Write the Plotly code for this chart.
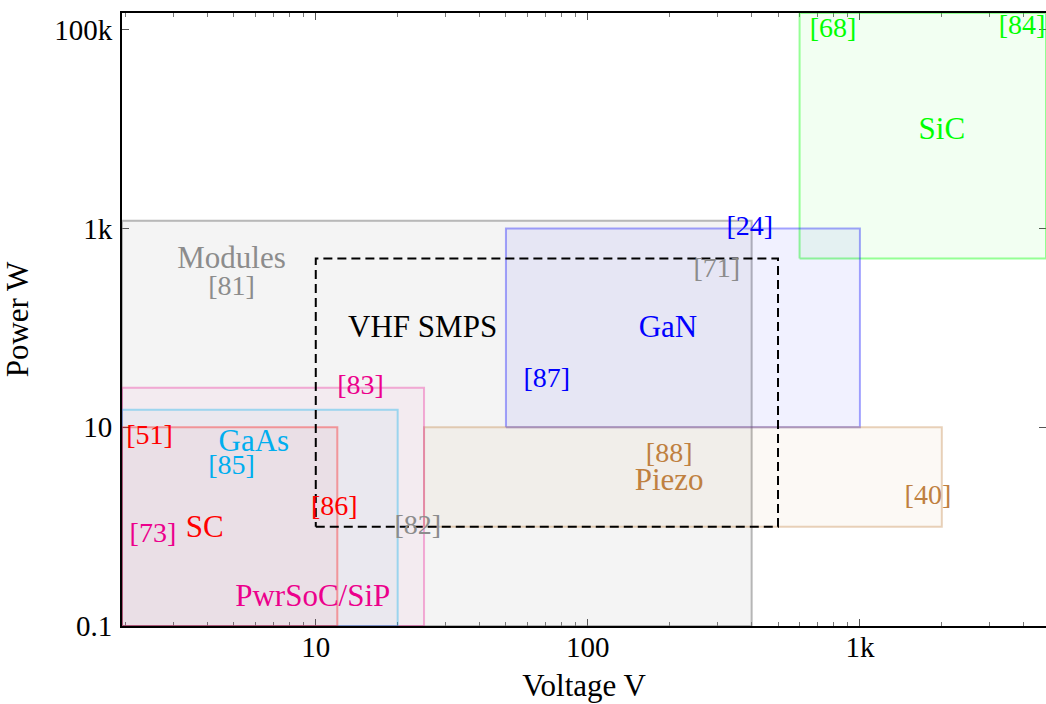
import math
import plotly.graph_objects as go

# ---- data ----
V_MIN, V_MAX = 1.94, 4830.0
P_MIN, P_MAX = 0.1, 148000.0

region_names = ["Modules", "SiC", "GaN", "Piezo", "PwrSoC/SiP", "GaAs", "SC"]
region_v0 = [V_MIN, 600, 50, 25, V_MIN, V_MIN, V_MIN]
region_v1 = [400, V_MAX, 1000, 2000, 25, 20, 12]
region_p0 = [P_MIN, 500, 10, 1, P_MIN, P_MIN, P_MIN]
region_p1 = [1200, P_MAX, 1000, 10, 25, 15, 10]
region_rgb = ["128,128,128", "0,255,0", "0,0,255", "191,128,64", "236,0,140", "0,174,239", "255,0,0"]
region_fill_alpha = [0.09, 0.05, 0.055, 0.05, 0.035, 0.035, 0.035]
region_line_alpha = [0.55, 0.4, 0.35, 0.35, 0.3, 0.35, 0.35]

vhf_v = [10, 500]
vhf_p = [1, 500]

label_text = ["Modules", "[81]", "VHF SMPS", "GaN", "[24]", "[71]", "[87]",
              "SiC", "[68]", "[84]", "[88]", "Piezo", "[40]",
              "[83]", "PwrSoC/SiP", "[73]", "GaAs", "[85]", "[82]",
              "SC", "[51]", "[86]"]
label_v = [4.9, 4.9, 24.7, 197, 394, 298, 70.6,
           2000, 796, 3945, 199, 199, 1778,
           14.6, 9.75, 2.52, 5.92, 4.9, 23.7,
           3.91, 2.45, 11.7]
label_p = [485, 253, 96, 96, 1018, 385, 30,
           9660, 100000, 107000, 5.27, 2.82, 1.99,
           25.5, 0.191, 0.824, 6.97, 3.99, 0.99,
           0.95, 8.0, 1.54]
label_color = ["#8c8c8c", "#8c8c8c", "black", "#0000ff", "#0000ff", "#8c8c8c", "#0000ff",
               "#00ff00", "#00ff00", "#00ff00", "#bf8040", "#bf8040", "#bf8040",
               "#ec008c", "#ec008c", "#ec008c", "#00aeef", "#00aeef", "#8c8c8c",
               "#ff0000", "#ff0000", "#ff0000"]

x_tickvals = [10, 100, 1000]
x_ticktext = ["10", "100", "1k"]
y_tickvals = [0.1, 10, 1000, 100000]
y_ticktext = ["0.1", "10", "1k", "100k"]

FONT = "Liberation Serif"
FS_TICK = 29
FS_WORD = 31
FS_REF = 28
label_size = [FS_REF if t.startswith("[") else FS_WORD for t in label_text]

fig = go.Figure()

for i, name in enumerate(region_names):
    x0, x1 = region_v0[i], region_v1[i]
    y0, y1 = region_p0[i], region_p1[i]
    fig.add_trace(go.Scatter(
        x=[x0, x1, x1, x0, x0], y=[y0, y0, y1, y1, y0],
        mode="lines", fill="toself",
        fillcolor=f"rgba({region_rgb[i]},{region_fill_alpha[i]})",
        line=dict(color=f"rgba({region_rgb[i]},{region_line_alpha[i]})", width=2),
        hoverinfo="skip", showlegend=False, name=name,
    ))

fig.add_trace(go.Scatter(
    x=[vhf_v[0], vhf_v[1], vhf_v[1], vhf_v[0], vhf_v[0]],
    y=[vhf_p[0], vhf_p[0], vhf_p[1], vhf_p[1], vhf_p[0]],
    mode="lines", line=dict(color="black", width=2, dash="9px,5px"),
    hoverinfo="skip", showlegend=False,
))

fig.add_trace(go.Scatter(
    x=label_v, y=label_p, mode="text", text=label_text,
    textposition="middle center",
    textfont=dict(family=FONT, size=label_size, color=label_color),
    hoverinfo="skip", showlegend=False, cliponaxis=False,
))

# invisible trace for right-side tick axis
fig.add_trace(go.Scatter(x=[10], y=[10], yaxis="y2", mode="markers",
                         marker=dict(opacity=0), hoverinfo="skip", showlegend=False))

minor_x = [m * 10 ** d for d in range(0, 4) for m in range(2, 10) if m * 10 ** d <= V_MAX]

fig.update_layout(
    width=1046, height=704,
    margin=dict(l=122, r=0, t=13, b=78),
    paper_bgcolor="white", plot_bgcolor="white",
    font=dict(family=FONT, size=FS_TICK, color="black"),
    xaxis=dict(
        type="log", range=[math.log10(V_MIN), math.log10(V_MAX)],
        tickmode="array", tickvals=x_tickvals, ticktext=x_ticktext,
        ticks="inside", ticklen=7, tickwidth=1, tickcolor="#555",
        minor=dict(ticks="inside", ticklen=4, tickwidth=1, tickcolor="#777",
                   tickmode="array", tickvals=minor_x, showgrid=False),
        showline=True, linecolor="black", linewidth=2, mirror="ticks",
        showgrid=False, zeroline=False, layer="below traces",
        title=dict(text="Voltage V", font=dict(family=FONT, size=FS_WORD), standoff=13),
        tickfont=dict(family=FONT, size=FS_TICK), ticklabelstandoff=-6,
    ),
    yaxis=dict(
        type="log", range=[math.log10(P_MIN), math.log10(P_MAX)],
        tickmode="array", tickvals=y_tickvals, ticktext=y_ticktext,
        ticks="inside", ticklen=7, tickwidth=1, tickcolor="#555",
        showline=True, linecolor="black", linewidth=2,
        showgrid=False, zeroline=False, layer="below traces",
        title=dict(text="Power W", font=dict(family=FONT, size=FS_WORD), standoff=16),
        tickfont=dict(family=FONT, size=FS_TICK), ticklabelstandoff=2,
    ),
    yaxis2=dict(
        type="log", range=[math.log10(P_MIN), math.log10(P_MAX)],
        overlaying="y", side="right",
        tickmode="array", tickvals=y_tickvals,
        ticks="inside", ticklen=7, tickwidth=1, tickcolor="#555",
        showticklabels=False, showline=False, showgrid=False, zeroline=False,
        layer="below traces",
    ),
)

fig.write_html(
    "out.html",
    config={"displayModeBar": False},
    post_script="document.body.style.margin='0';document.body.style.overflow='hidden';",
)
